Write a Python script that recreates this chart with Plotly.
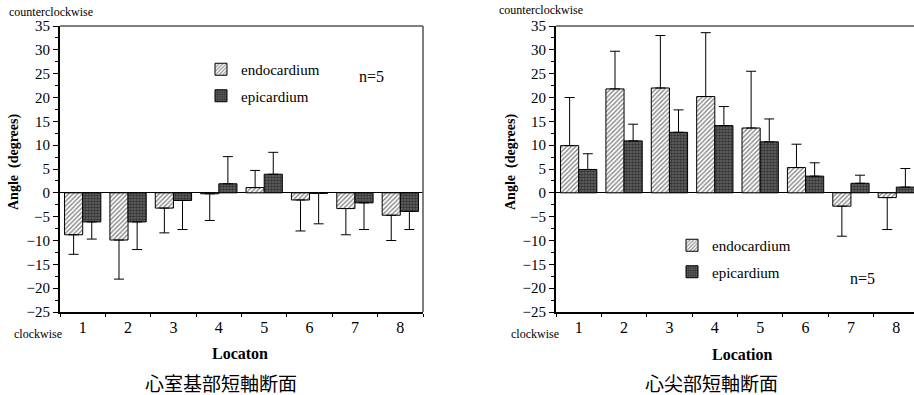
import plotly.graph_objects as go

locations = ["1", "2", "3", "4", "5", "6", "7", "8"]

# Left panel (basal short-axis section)
base_endo_mean = [-8.8, -9.9, -3.2, -0.2, 1.1, -1.5, -3.3, -4.7]
base_endo_sd = [4.1, 8.2, 5.2, 5.6, 3.6, 6.5, 5.5, 5.3]
base_epi_mean = [-6.1, -6.1, -1.6, 1.9, 3.9, -0.1, -2.1, -3.9]
base_epi_sd = [3.6, 5.8, 6.1, 5.7, 4.6, 6.4, 5.6, 3.8]

# Right panel (apical short-axis section)
apex_endo_mean = [9.9, 21.8, 22.0, 20.2, 13.6, 5.3, -2.8, -1.0]
apex_endo_sd = [10.1, 7.9, 11.0, 13.4, 11.9, 4.9, 6.3, 6.7]
apex_epi_mean = [4.9, 10.9, 12.7, 14.1, 10.7, 3.5, 2.0, 1.2]
apex_epi_sd = [3.3, 3.5, 4.7, 4.0, 4.8, 2.8, 1.7, 3.9]

y_ticks = [35, 30, 25, 20, 15, 10, 5, 0, -5, -10, -15, -20, -25]

W, H = 914, 395
SERIF = "Liberation Serif, Times New Roman, serif"
CJK = "Noto Sans CJK JP"


def one_sided(mean, sd):
    plus = [s if m >= 0 else 0 for m, s in zip(mean, sd)]
    minus = [s if m < 0 else 0 for m, s in zip(mean, sd)]
    return plus, minus


endo_marker = dict(color="white", line=dict(color="black", width=1),
                   pattern=dict(shape="/", fgcolor="black", bgcolor="white",
                                size=3.2, solidity=0.4))
epi_marker = dict(color="#444", line=dict(color="black", width=1),
                  pattern=dict(shape=".", fgcolor="#000", bgcolor="#6a6a6a",
                               size=3, solidity=0.6))


def bar(mean, sd, name, marker, xa, ya, legend, group):
    plus, minus = one_sided(mean, sd)
    return go.Bar(
        x=locations, y=mean, name=name, marker=marker,
        xaxis=xa, yaxis=ya, legend=legend, legendgroup=group,
        error_y=dict(type="data", symmetric=False, array=plus,
                     arrayminus=minus, color="black", thickness=1, width=5),
    )


fig = go.Figure()
fig.add_trace(bar(base_endo_mean, base_endo_sd, "endocardium", endo_marker, "x", "y", "legend", "a1"))
fig.add_trace(bar(base_epi_mean, base_epi_sd, "epicardium", epi_marker, "x", "y", "legend", "a2"))
fig.add_trace(bar(apex_endo_mean, apex_endo_sd, "endocardium", endo_marker, "x2", "y2", "legend2", "b1"))
fig.add_trace(bar(apex_epi_mean, apex_epi_sd, "epicardium", epi_marker, "x2", "y2", "legend2", "b2"))

ydom = [1 - 312 / H, 1 - 26 / H]

xcommon = dict(type="category", tickson="boundaries", ticks="outside", ticklen=3,
               tickcolor="black", showline=True, linecolor="black", linewidth=2,
               showgrid=False, automargin=False,
               tickfont=dict(family=SERIF, size=16, color="black"),
               fixedrange=True)
ycommon = dict(range=[-25, 35], tickvals=y_ticks, ticks="outside", ticklen=5,
               tickcolor="black", showline=True, linecolor="black", linewidth=2,
               showgrid=False, zeroline=True, zerolinecolor="black", zerolinewidth=1,
               automargin=False, fixedrange=True,
               minor=dict(dtick=2.5, ticks="outside", ticklen=3, tickcolor="black"),
               tickfont=dict(family=SERIF, size=15, color="black"), domain=ydom)

legend_common = dict(xanchor="left", yanchor="top", bgcolor="rgba(0,0,0,0)",
                     tracegroupgap=4, traceorder="grouped",
                     font=dict(family=SERIF, size=15, color="black"))

fig.update_layout(
    width=W, height=H,
    margin=dict(l=0, r=0, t=0, b=0, pad=0, autoexpand=False),
    paper_bgcolor="white", plot_bgcolor="white",
    font=dict(family=SERIF, color="black"),
    barmode="group", bargap=0.2, bargroupgap=0,
    xaxis=dict(domain=[60 / W, 423 / W], anchor="y", range=[-0.5, 7.5], **xcommon),
    yaxis=dict(anchor="x", **ycommon),
    xaxis2=dict(domain=[556 / W, 1.0], anchor="y2", range=[-0.5, 7.39], **xcommon),
    yaxis2=dict(anchor="x2", **ycommon),
    legend=dict(x=201 / W, y=1 - 53 / H, **legend_common),
    legend2=dict(x=672 / W, y=1 - 229 / H, **legend_common),
    showlegend=True,
)

# top/right frame lines of left panel, top line of right panel
fig.add_shape(type="line", xref="x domain", yref="y domain", x0=0, x1=1, y0=1, y1=1,
              line=dict(color="#555", width=1.5))
fig.add_shape(type="line", xref="x domain", yref="y domain", x0=1, x1=1, y0=0, y1=1,
              line=dict(color="#555", width=1.5))
fig.add_shape(type="line", xref="x2 domain", yref="y2 domain", x0=0, x1=1, y0=1, y1=1,
              line=dict(color="#555", width=1.5))


def txt(x, y, text, size, family=SERIF, bold=False, angle=0, xanchor="center"):
    if bold:
        text = "<b>" + text + "</b>"
    fig.add_annotation(x=x / W, y=1 - y / H, xref="paper", yref="paper", text=text,
                       showarrow=False, xanchor=xanchor, yanchor="middle", textangle=angle,
                       font=dict(family=family, size=size, color="black"))


# Left panel texts
txt(7, 12, "counterclockwise", 12, xanchor="left")
txt(12, 334, "clockwise", 12, xanchor="left")
txt(14, 162, "Angle  (degrees)", 14, bold=True, angle=-90)
txt(240, 353, "Locaton", 16, bold=True)
txt(371, 76, "n=5", 16)
txt(221, 382, "心室基部短軸断面", 19, family=CJK)

# Right panel texts
txt(497, 10, "counterclockwise", 12, xanchor="left")
txt(509, 334, "clockwise", 12, xanchor="left")
txt(511, 162, "Angle  (degrees)", 14, bold=True, angle=-90)
txt(742, 354, "Location", 16, bold=True)
txt(862, 278, "n=5", 16)
txt(711, 382, "心尖部短軸断面", 19, family=CJK)

fig.write_html("out.html", config={"displayModeBar": False},
               post_script="document.body.style.margin='0';")
